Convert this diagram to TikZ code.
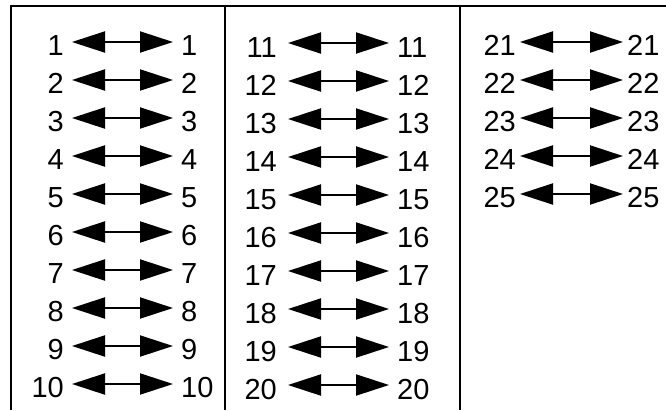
\documentclass[tikz,border=0pt]{standalone}
\usepackage{fontspec}
\setmainfont{Liberation Sans}
\usetikzlibrary{arrows.meta}
\begin{document}
\begin{tikzpicture}[x=1pt,y=-1pt,
  num/.style={inner ysep=0pt, inner xsep=#1, text height=26pt, text depth=0pt,
    font=\fontsize{29}{33}\selectfont},
  num/.default=8pt,
  low/.style={text height=29pt},
  link/.style={{Triangle[length=33pt,width=21pt]}-{Triangle[length=33pt,width=21pt]}, line width=2pt},
  frame/.style={line width=2pt, line join=miter}]
\useasboundingbox (0,0) rectangle (666,410);
% frame and column dividers
\coordinate (tl) at (11,6);
\coordinate (tr) at (666,6);
\coordinate (bl) at (11,410);
\coordinate (d1t) at (225,6);
\coordinate (d1b) at (225,410);
\coordinate (d2t) at (460,6);
\coordinate (d2b) at (460,410);
\draw[frame] (bl) -- (tl) -- (tr);
\draw[frame] (d1t) -- (d1b);
\draw[frame] (d2t) -- (d2b);
% column 1
\foreach \i in {1,...,10} {
  \pgfmathsetmacro\yy{42+38*(\i-1)}
  \node[num=8pt, anchor=east] (l\i) at (72,\yy) {\i};
  \node[num=8pt, anchor=west] (r\i) at (173,\yy) {\i};
  \draw[link] (l\i) -- (r\i);
}
% column 2
\foreach \i in {11,...,20} {
  \pgfmathsetmacro\yy{43+38*(\i-11)}
  \node[num=11pt, low, anchor=east] (l\i) at (288,\yy) {\i};
  \node[num=8pt, low, anchor=west] (r\i) at (389,\yy) {\i};
  \draw[link] (l\i) -- (r\i);
}
% column 3
\foreach \i in {21,...,25} {
  \pgfmathsetmacro\yy{42+38*(\i-21)}
  \node[num=4pt, anchor=east] (l\i) at (520,\yy) {\i};
  \node[num=4pt, anchor=west] (r\i) at (623,\yy) {\i};
  \draw[link] (l\i) -- (r\i);
}
\end{tikzpicture}
\end{document}
